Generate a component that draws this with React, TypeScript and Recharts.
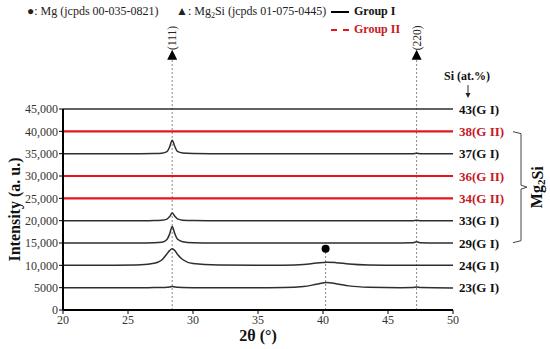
import { LineChart, Line, XAxis, YAxis, ReferenceLine, ReferenceDot, Label } from "recharts";

const twoTheta = [20, 24, 26, 27, 27.6, 28, 28.2, 28.4, 28.6, 28.8, 29.2, 30, 32, 35, 37, 38.5, 39.5, 40.3, 41, 42, 43.5, 46, 46.9, 47.2, 47.5, 50];
const edges = [20, 50];

const si23 = [5000, 5000, 5000, 5010, 5030, 5080, 5150, 5250, 5170, 5080, 5030, 5000, 5000, 5000, 5030, 5250, 5750, 6150, 5900, 5400, 5100, 5000, 5020, 5150, 5030, 4950];
const si24 = [10000, 10030, 10120, 10450, 11200, 12600, 13300, 13700, 13300, 12500, 11300, 10400, 10080, 10000, 10030, 10180, 10500, 10700, 10600, 10300, 10080, 10000, 10000, 10000, 10000, 10000];
const si29 = [15000, 15000, 15020, 15060, 15180, 15800, 17000, 18700, 17100, 15900, 15300, 15080, 15020, 15000, 15000, 15000, 15000, 15000, 15000, 15000, 15000, 15000, 15030, 15300, 15040, 15000];
const si33 = [20000, 20000, 20000, 20020, 20080, 20350, 20900, 21700, 21000, 20400, 20120, 20030, 20000, 20000, 20000, 20000, 20000, 20000, 20000, 20000, 20000, 20000, 20000, 20080, 20000, 20000];
const si37 = [35000, 35000, 35000, 35030, 35100, 35450, 36500, 38000, 36600, 35500, 35150, 35050, 35000, 35000, 35000, 35000, 35000, 35000, 35000, 35000, 35000, 35000, 35000, 35120, 35000, 35000];
const si34 = [25000, 25000];
const si36 = [30000, 30000];
const si38 = [40000, 40000];
const si43 = [45000, 45000];

const yTicks = [0, 5000, 10000, 15000, 20000, 25000, 30000, 35000, 40000, 45000];
const xTicks = [20, 25, 30, 35, 40, 45, 50];

const BLACK = "#2e2e2e";
const RED = "#e3161d";
const RED_TXT = "#c8181e";
const FONT = "'Liberation Serif', 'Times New Roman', serif";

// baseline offset of each pattern, used to place its name at the right end
const series = [
  { name: "23(G I)", xs: twoTheta, ys: si23, base: 5000, red: false },
  { name: "24(G I)", xs: twoTheta, ys: si24, base: 10000, red: false },
  { name: "29(G I)", xs: twoTheta, ys: si29, base: 15000, red: false },
  { name: "33(G I)", xs: twoTheta, ys: si33, base: 20000, red: false },
  { name: "34(G II)", xs: edges, ys: si34, base: 25000, red: true },
  { name: "36(G II)", xs: edges, ys: si36, base: 30000, red: true },
  { name: "37(G I)", xs: twoTheta, ys: si37, base: 35000, red: false },
  { name: "38(G II)", xs: edges, ys: si38, base: 40000, red: true },
  { name: "43(G I)", xs: edges, ys: si43, base: 45000, red: false },
];

const toRows = (xs: number[], ys: number[]) => xs.map((x, i) => ({ x, y: ys[i] }));

const fmtY = (v: number) => (v === 5000 || v === 0 ? String(v) : v.toLocaleString("en-US"));

const Triangle = (label: string) => (p: any) => (
  <g>
    <path d={`M${p.cx - 5},${p.cy} L${p.cx + 5},${p.cy} L${p.cx},${p.cy - 10} Z`} fill="#000" />
    <text
      x={p.cx}
      y={p.cy - 22}
      transform={`rotate(-90 ${p.cx} ${p.cy - 22})`}
      textAnchor="middle"
      dominantBaseline="central"
      fontSize={11.5}
      fontFamily={FONT}
      fill="#222"
    >
      {label}
    </text>
  </g>
);

const EndLabel = (text: string, red: boolean) => (p: any) => (
  <text x={p.cx + 6} y={p.cy} dominantBaseline="central" fontSize={13} fontWeight="bold" fontFamily={FONT} fill={red ? RED_TXT : "#111"}>
    {text}
  </text>
);

const Brace = (p: any) => {
  const x = p.cx + 68;
  const h = 55.5;
  return (
    <g>
      <path
        d={`M${x - 8},${p.cy - h} L${x},${p.cy - h + 2} L${x},${p.cy - 2} L${x + 6},${p.cy} L${x},${p.cy + 2} L${x},${p.cy + h - 2} L${x - 8},${p.cy + h}`}
        fill="none"
        stroke="#444"
        strokeWidth={1}
      />
      <text
        x={x + 16}
        y={p.cy}
        transform={`rotate(-90 ${x + 16} ${p.cy})`}
        textAnchor="middle"
        dominantBaseline="central"
        fontSize={16}
        fontWeight="bold"
        fontFamily={FONT}
        fill="#111"
      >
        Mg<tspan fontSize={11} dy={4}>2</tspan><tspan dy={-4}>Si</tspan>
      </text>
    </g>
  );
};

export default function App() {
  return (
    <div style={{ position: "absolute", left: 0, top: 0, width: 550, height: 349, background: "#fff", fontFamily: FONT }}>
      <LineChart width={550} height={349} margin={{ top: 109, right: 97, bottom: 9, left: 13 }}>
        <XAxis
          dataKey="x"
          type="number"
          domain={[20, 50]}
          ticks={xTicks}
          allowDuplicatedCategory={false}
          height={30}
          axisLine={{ stroke: "#000", strokeWidth: 2 }}
          tickLine={{ stroke: "#000" }}
          tickSize={4}
          tickMargin={1}
          tick={{ fontSize: 12, fill: "#333", fontFamily: FONT }}
        >
          <Label value="2θ (°)" position="insideBottom" offset={-1} style={{ fontSize: 16, fontWeight: "bold", fill: "#111", fontFamily: FONT }} />
        </XAxis>
        <YAxis
          type="number"
          domain={[0, 45000]}
          ticks={yTicks}
          width={50}
          interval={0}
          tickFormatter={fmtY}
          axisLine={{ stroke: "#000", strokeWidth: 2 }}
          tickLine={{ stroke: "#000" }}
          tickSize={4}
          tickMargin={1}
          tick={{ fontSize: 12, fill: "#333", fontFamily: FONT }}
        >
          <Label
            content={(p: any) => {
              const cx = 14;
              const cy = p.viewBox.y + p.viewBox.height / 2;
              return (
                <text x={cx} y={cy} transform={`rotate(-90 ${cx} ${cy})`} textAnchor="middle" dominantBaseline="central" fontSize={16} fontWeight="bold" fill="#111" fontFamily={FONT}>
                  Intensity (a. u.)
                </text>
              );
            }}
          />
        </YAxis>

        <ReferenceLine segment={[{ x: 28.4, y: 0 }, { x: 28.4, y: 56000 }]} ifOverflow="visible" stroke="#888" strokeDasharray="2 2" strokeWidth={1} />
        <ReferenceLine segment={[{ x: 47.2, y: 0 }, { x: 47.2, y: 56000 }]} ifOverflow="visible" stroke="#888" strokeDasharray="2 2" strokeWidth={1} />
        <ReferenceLine segment={[{ x: 40.2, y: 0 }, { x: 40.2, y: 13400 }]} ifOverflow="visible" stroke="#888" strokeDasharray="2 2" strokeWidth={1} />

        {series.map((s) => (
          <Line
            key={s.name}
            data={toRows(s.xs, s.ys)}
            dataKey="y"
            type="monotone"
            stroke={s.red ? RED : BLACK}
            strokeWidth={s.red ? 2.2 : 1.5}
            dot={false}
            activeDot={false}
            isAnimationActive={false}
          />
        ))}

        <ReferenceDot x={40.2} y={13700} r={4} fill="#000" stroke="none" ifOverflow="visible" />
        <ReferenceDot x={28.4} y={56000} ifOverflow="visible" shape={Triangle("(111)")} />
        <ReferenceDot x={47.2} y={56000} ifOverflow="visible" shape={Triangle("(220)")} />
        {series.map((s) => (
          <ReferenceDot key={"l" + s.name} x={50} y={s.base} ifOverflow="visible" shape={EndLabel(s.name, s.red)} />
        ))}
        <ReferenceDot x={50} y={27500} ifOverflow="visible" shape={Brace} />
      </LineChart>

      <div style={{ position: "absolute", left: 27, top: 4, fontSize: 12, color: "#222", whiteSpace: "nowrap" }}>
        ●: Mg (jcpds 00-035-0821)
      </div>
      <div style={{ position: "absolute", left: 176, top: 4, fontSize: 12, color: "#222", whiteSpace: "nowrap" }}>
        ▲: Mg<sub style={{ fontSize: 8 }}>2</sub>Si (jcpds 01-075-0445)
      </div>
      <div style={{ position: "absolute", left: 331, top: 4, fontSize: 12, fontWeight: "bold", color: "#111", whiteSpace: "nowrap", display: "flex", alignItems: "center" }}>
        <span style={{ display: "inline-block", width: 18, height: 2, background: "#000", marginRight: 5 }} />
        Group I
      </div>
      <div style={{ position: "absolute", left: 331, top: 22, fontSize: 12, fontWeight: "bold", color: RED_TXT, whiteSpace: "nowrap", display: "flex", alignItems: "center" }}>
        <span style={{ display: "inline-block", width: 18, height: 0, borderTop: `2px dashed ${RED}`, marginRight: 5 }} />
        Group II
      </div>
      <div style={{ position: "absolute", left: 444, top: 69, fontSize: 12, fontWeight: "bold", color: "#111", whiteSpace: "nowrap" }}>
        Si (at.%)
      </div>
      <svg style={{ position: "absolute", left: 0, top: 0, pointerEvents: "none" }} width={550} height={349}>
        <line x1={468} y1={85} x2={468} y2={94} stroke="#333" strokeWidth={1} />
        <path d="M465.5,93 L470.5,93 L468,98 Z" fill="#222" />
      </svg>
    </div>
  );
}
